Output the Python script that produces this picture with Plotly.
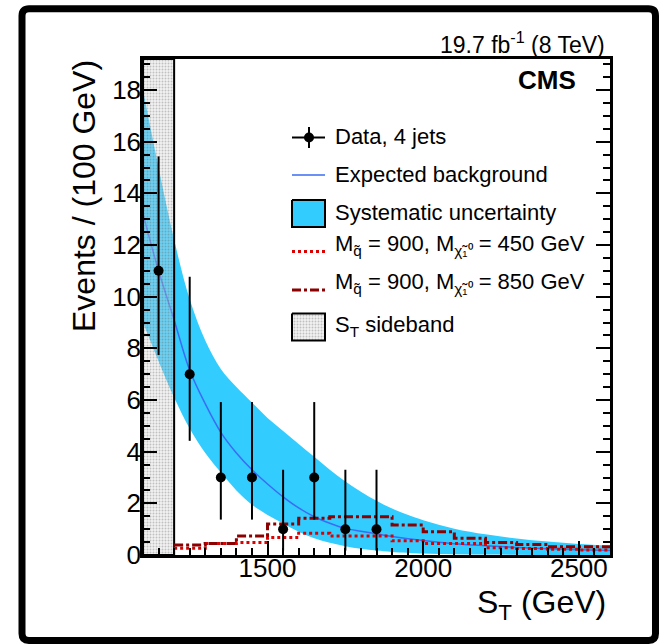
import plotly.graph_objects as go

# ---------------- data ----------------
st_centers = [1150, 1250, 1350, 1450, 1550, 1650, 1750, 1850]
data_counts = [11, 7, 3, 3, 1, 3, 1, 1]
data_err_lo = [3.26, 2.58, 1.63, 1.63, 0.83, 1.63, 0.83, 0.83]
data_err_hi = [4.43, 3.77, 2.92, 2.92, 2.30, 2.92, 2.30, 2.30]

bkg_x = [1100, 1150, 1200, 1250, 1300, 1350, 1400, 1450, 1500, 1550, 1600, 1650,
         1700, 1750, 1800, 1850, 1900, 2000, 2100, 2200, 2300, 2400, 2500, 2600]
bkg_y = [13.2, 11.0, 9.1, 7.15, 5.85, 4.75, 3.95, 3.3, 2.75, 2.25, 1.82, 1.48,
         1.23, 1.03, 0.92, 0.82, 0.72, 0.56, 0.44, 0.36, 0.29, 0.24, 0.20, 0.17]
bkg_up = [18.0, 15.0, 12.2, 9.9, 8.3, 7.2, 6.5, 5.9, 5.3, 4.8, 4.3, 3.8,
          3.3, 2.85, 2.45, 2.1, 1.8, 1.35, 1.02, 0.8, 0.64, 0.52, 0.43, 0.36]
bkg_lo = [9.0, 7.5, 6.1, 4.9, 3.95, 3.2, 2.5, 1.95, 1.55, 1.22, 0.9, 0.65,
          0.47, 0.34, 0.24, 0.17, 0.12, 0.06, 0.03, 0.02, 0.01, 0.0, 0.0, 0.0]

sig_edges = [1200, 1300, 1400, 1500, 1600, 1700, 1800, 1900, 2000, 2100, 2200,
             2300, 2400, 2500, 2600]
sig_450 = [0.26, 0.45, 0.48, 0.68, 0.84, 0.74, 0.74, 0.55, 0.45, 0.45, 0.28,
           0.25, 0.22, 0.19]
sig_850 = [0.39, 0.45, 0.74, 1.2, 1.42, 1.48, 1.48, 1.16, 0.9, 0.65, 0.48,
           0.41, 0.32, 0.32]

sideband = [1100, 1200]
x_range = [1100, 2600]
y_range = [0, 19.2]

x_ticks = [1500, 2000, 2500]

# ---------------- styles ----------------
FONT = "Liberation Sans, Arial, Helvetica, sans-serif"
BAND = "#33ccff"
BLUE = "#3a6cf4"
RED = "#dd0000"
DRED = "#8b0000"
SB_PATTERN = dict(shape=".", fgcolor="rgba(90,90,90,0.65)",
                  bgcolor="rgba(215,215,215,0.35)", size=3, solidity=0.3)

# plot area in pixels
L, R, T, B = 143, 610, 59, 555
W, H = 659, 644


def px(X):
    return (X - L) / (R - L)


def py(Y):
    return 1 - (Y - T) / (B - T)


fig = go.Figure()

# systematic band
fig.add_trace(go.Scatter(x=bkg_x, y=bkg_lo, mode="lines", line=dict(width=0, shape="spline"),
                         showlegend=False, hoverinfo="skip"))
fig.add_trace(go.Scatter(x=bkg_x, y=bkg_up, mode="lines", line=dict(width=0, shape="spline"),
                         fill="tonexty", fillcolor=BAND, showlegend=False,
                         hoverinfo="skip"))
# expected background
fig.add_trace(go.Scatter(x=bkg_x, y=bkg_y, mode="lines", line=dict(color=BLUE, width=1.5,
                                                                 shape="spline"),
                         showlegend=False))

# sideband
fig.add_trace(go.Scatter(
    x=[sideband[0], sideband[1], sideband[1], sideband[0], sideband[0]],
    y=[y_range[0], y_range[0], y_range[1], y_range[1], y_range[0]],
    mode="lines", fill="toself", line=dict(color="black", width=2),
    fillcolor="rgba(0,0,0,0)", fillpattern=SB_PATTERN,
    showlegend=False, hoverinfo="skip"))

# signal histograms
def step(edges, vals):
    return list(edges), list(vals) + [vals[-1]]

sx, sy = step(sig_edges, sig_450)
fig.add_trace(go.Scatter(x=sx, y=sy, mode="lines",
                         line=dict(color=RED, width=3, dash="dot", shape="hv"),
                         showlegend=False))
sx, sy = step(sig_edges, sig_850)
fig.add_trace(go.Scatter(x=sx, y=sy, mode="lines",
                         line=dict(color=DRED, width=3, dash="dashdot", shape="hv"),
                         showlegend=False))

# data
fig.add_trace(go.Scatter(
    x=st_centers, y=data_counts, mode="markers",
    marker=dict(color="black", size=10),
    error_y=dict(type="data", array=data_err_hi, arrayminus=data_err_lo,
                 color="black", thickness=2, width=0),
    showlegend=False))

# ---------------- legend (drawn on pixel overlay axes) ----------------
lx0, lx1, lxm = 292, 325, 309
leg_rows = {"data": 137.5, "bkg": 175, "syst": 213.5, "s450": 251.5,
            "s850": 290, "side": 327}
text_shift = {"data": -1, "bkg": -1, "syst": -1, "s450": -7, "s850": -7, "side": -1}

def leg_line(y, color, width, dash="solid"):
    fig.add_trace(go.Scatter(x=[lx0, lx1], y=[y, y], mode="lines", xaxis="x2", yaxis="y2",
                             line=dict(color=color, width=width, dash=dash),
                             showlegend=False, hoverinfo="skip"))

leg_line(leg_rows["data"], "black", 2)
fig.add_trace(go.Scatter(x=[lxm, lxm], y=[leg_rows["data"] - 10.5, leg_rows["data"] + 10.5],
                         mode="lines", xaxis="x2", yaxis="y2",
                         line=dict(color="black", width=2), showlegend=False))
fig.add_trace(go.Scatter(x=[lxm], y=[leg_rows["data"]], mode="markers", xaxis="x2", yaxis="y2",
                         marker=dict(color="black", size=10), showlegend=False))
leg_line(leg_rows["bkg"], BLUE, 1.5)
ys = leg_rows["syst"]
fig.add_trace(go.Scatter(x=[lx0, lx1, lx1, lx0, lx0], y=[ys - 13.5, ys - 13.5, ys + 13.5, ys + 13.5, ys - 13.5],
                         mode="lines", fill="toself", fillcolor=BAND, xaxis="x2", yaxis="y2",
                         line=dict(color="black", width=2), showlegend=False))
leg_line(leg_rows["s450"], RED, 3, "dot")
leg_line(leg_rows["s850"], DRED, 3, "dashdot")
ys = leg_rows["side"]
fig.add_trace(go.Scatter(x=[lx0, lx1, lx1, lx0, lx0], y=[ys - 13.5, ys - 13.5, ys + 13.5, ys + 13.5, ys - 13.5],
                         mode="lines", fill="toself", fillcolor="rgba(0,0,0,0)", xaxis="x2", yaxis="y2",
                         fillpattern=SB_PATTERN,
                         line=dict(color="black", width=2), showlegend=False))

leg_texts = [
    ("data", "Data, 4 jets"),
    ("bkg", "Expected background"),
    ("syst", "Systematic uncertainty"),
    ("s450", "M<sub>q̃</sub> = 900, M<sub>χ̃₁⁰</sub> = 450 GeV"),
    ("s850", "M<sub>q̃</sub> = 900, M<sub>χ̃₁⁰</sub> = 850 GeV"),
    ("side", "S<sub>T</sub> sideband"),
]
annotations = []
for key, txt in leg_texts:
    annotations.append(dict(text=txt, x=px(333), y=py(leg_rows[key] + text_shift[key]),
                            xref="paper", yref="paper",
                            xanchor="left", yanchor="middle", showarrow=False,
                            font=dict(family=FONT, size=22, color="black")))

annotations += [
    dict(text="19.7 fb<sup>-1</sup> (8 TeV)", x=px(607), y=py(43), xref="paper", yref="paper",
         xanchor="right", yanchor="middle", showarrow=False,
         font=dict(family=FONT, size=23, color="black")),
    dict(text="<b>CMS</b>", x=px(578), y=py(80), xref="paper", yref="paper",
         xanchor="right", yanchor="middle", showarrow=False,
         font=dict(family=FONT, size=26, color="black")),
    dict(text="Events / (100 GeV)", x=px(84), y=py(58), xref="paper", yref="paper",
         xanchor="center", yanchor="top", textangle=-90, showarrow=False,
         font=dict(family=FONT, size=32, color="black")),
    dict(text="S<sub>T</sub> (GeV)", x=px(608), y=py(604), xref="paper", yref="paper",
         xanchor="right", yanchor="middle", showarrow=False,
         font=dict(family=FONT, size=32, color="black")),
]

# outer rounded frame (pixel geometry -> paper coordinates)
bx0, bx1, by0, by1, rad = 22, 655.5, 8.7, 640.5, 7


def P(X, Y):
    return f"{px(X):.5f},{py(Y):.5f}"


frame_path = (f"M {P(bx0 + rad, by0)} L {P(bx1 - rad, by0)} Q {P(bx1, by0)} {P(bx1, by0 + rad)} "
              f"L {P(bx1, by1 - rad)} Q {P(bx1, by1)} {P(bx1 - rad, by1)} "
              f"L {P(bx0 + rad, by1)} Q {P(bx0, by1)} {P(bx0, by1 - rad)} "
              f"L {P(bx0, by0 + rad)} Q {P(bx0, by0)} {P(bx0 + rad, by0)} Z")
shapes = [
    dict(type="path", xref="paper", yref="paper", path=frame_path,
         line=dict(color="black", width=7), layer="above"),
]

fig.update_layout(
    width=W, height=H,
    margin=dict(l=L, r=W - R, t=T, b=H - B, pad=0),
    plot_bgcolor="white", paper_bgcolor="white",
    showlegend=False,
    font=dict(family=FONT, size=26, color="black"),
    annotations=annotations, shapes=shapes,
    xaxis=dict(range=x_range, tickvals=x_ticks, ticks="inside", ticklen=14, tickwidth=1.5,
               tickcolor="black", showline=True, linecolor="black", linewidth=2.5,
               mirror=True, showgrid=False, zeroline=False, ticklabelstandoff=-12,
               tickfont=dict(family=FONT, size=26, color="black"),
               minor=dict(dtick=50, tick0=0, ticks="inside", ticklen=7, tickwidth=1.5,
                          tickcolor="black", showgrid=False)),
    yaxis=dict(range=y_range, dtick=2, tick0=0, ticks="inside", ticklen=14, tickwidth=1.5,
               tickcolor="black", showline=True, linecolor="black", linewidth=2.5,
               mirror="allticks", showgrid=False, zeroline=False, ticklabelstandoff=-6,
               tickfont=dict(family=FONT, size=26, color="black"),
               minor=dict(dtick=0.5, tick0=0, ticks="inside", ticklen=7, tickwidth=1.5,
                          tickcolor="black", showgrid=False)),
    xaxis2=dict(overlaying="x", anchor="y2", range=[L, R], visible=False, fixedrange=True),
    yaxis2=dict(overlaying="y", anchor="x2", range=[B, T], visible=False, fixedrange=True),
)

fig.write_html("out.html")
